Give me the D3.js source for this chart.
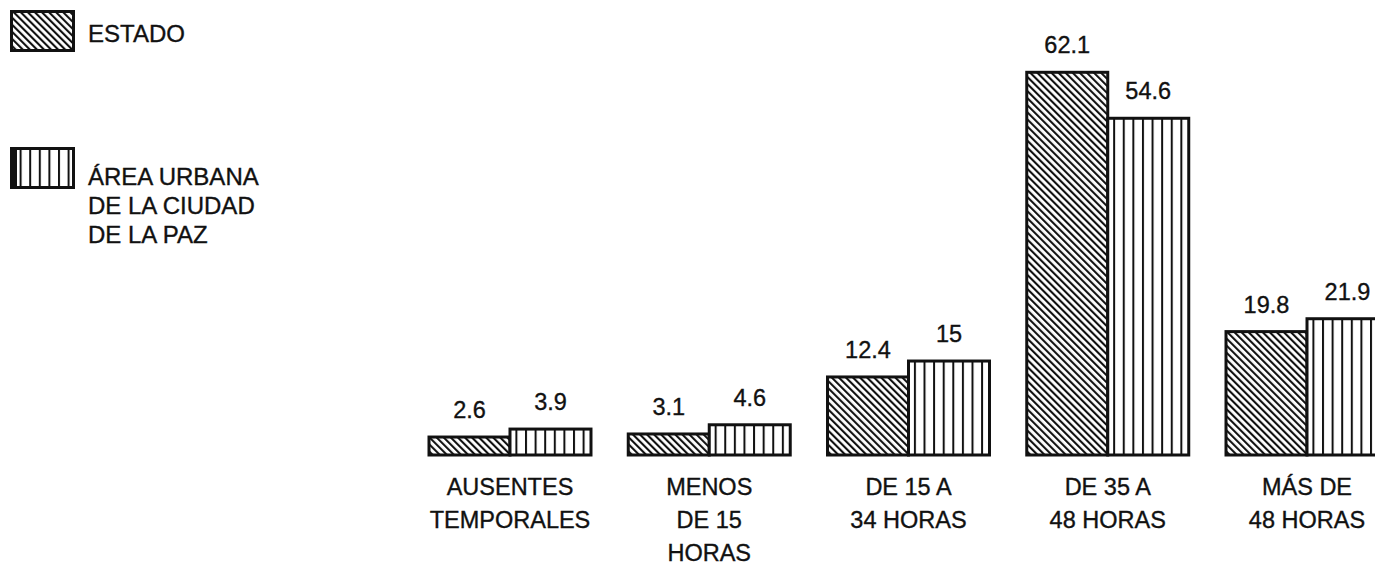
<!DOCTYPE html>
<html>
<head>
<meta charset="utf-8">
<script src="https://cdn.jsdelivr.net/npm/d3@7"></script>
<style>
  html, body { margin: 0; padding: 0; background: #fff; }
  svg { display: block; }
  text { font-family: "Liberation Sans", Arial, Helvetica, sans-serif; fill: #111; stroke: #111; stroke-width: 0.35px; }
</style>
</head>
<body>
<svg id="chart" width="1375" height="570"></svg>
<script>
// ---- data ----
const categories = ["AUSENTES TEMPORALES", "MENOS DE 15 HORAS", "DE 15 A 34 HORAS", "DE 35 A 48 HORAS", "MÁS DE 48 HORAS"];
const categoryLines = [["AUSENTES", "TEMPORALES"], ["MENOS", "DE 15", "HORAS"], ["DE 15 A", "34 HORAS"], ["DE 35 A", "48 HORAS"], ["MÁS DE", "48 HORAS"]];
const estadoValues = [2.6, 3.1, 12.4, 62.1, 19.8];
const lapazValues = [3.9, 4.6, 15, 54.6, 21.9];
const valueLabels = [["2.6", "3.1", "12.4", "62.1", "19.8"], ["3.9", "4.6", "15", "54.6", "21.9"]];
const seriesKeys = ["estado", "lapaz"];
const seriesLegend = [["ESTADO"], ["ÁREA URBANA", "DE LA CIUDAD", "DE LA PAZ"]];

// ---- drawing ----
const svg = d3.select("#chart");
const ink = "#111";

const defs = svg.append("defs");
const diag = defs.append("pattern")
  .attr("id", "diag").attr("patternUnits", "userSpaceOnUse")
  .attr("width", 5).attr("height", 5)
  .attr("patternTransform", "rotate(-45)");
diag.append("rect").attr("width", 5).attr("height", 5).attr("fill", "#fff");
diag.append("rect").attr("x", 0).attr("y", 0).attr("width", 2.1).attr("height", 5).attr("fill", ink);

const vert = defs.append("pattern")
  .attr("id", "vert").attr("patternUnits", "userSpaceOnUse")
  .attr("width", 9.6).attr("height", 10);
vert.append("rect").attr("width", 9.6).attr("height", 10).attr("fill", "#fff");
vert.append("rect").attr("x", 0).attr("y", 0).attr("width", 2).attr("height", 10).attr("fill", ink);

const fills = { estado: "url(#diag)", lapaz: "url(#vert)" };

const x0 = d3.scaleBand().domain(categories).range([429, 1388]).paddingInner(0.187).paddingOuter(0);
const x1 = d3.scaleBand().domain(seriesKeys).range([0, x0.bandwidth()]).padding(0);
const y = d3.scaleLinear().domain([-0.33, 62.1]).range([455, 72.3]);

const rows = categories.map((c, i) => ({ cat: c, i, vals: [estadoValues[i], lapazValues[i]] }));

const groups = svg.append("g").selectAll("g").data(rows).join("g")
  .attr("transform", d => `translate(${x0(d.cat)},0)`);

groups.selectAll("rect").data(d => d.vals.map((v, k) => ({ key: seriesKeys[k], v }))).join("rect")
  .attr("x", d => x1(d.key))
  .attr("y", d => y(d.v))
  .attr("width", x1.bandwidth())
  .attr("height", d => y(-0.33) - y(d.v))
  .attr("fill", d => fills[d.key])
  .attr("stroke", ink).attr("stroke-width", 3);

groups.selectAll("text.val").data(d => d.vals.map((v, k) => ({ key: seriesKeys[k], v, label: valueLabels[k][d.i] }))).join("text")
  .attr("class", "val")
  .attr("x", d => x1(d.key) + x1.bandwidth() / 2)
  .attr("y", d => y(d.v) - 19)
  .attr("text-anchor", "middle")
  .attr("font-size", 23.5)
  .text(d => d.label);

// category labels (axis-like)
groups.each(function (d) {
  const t = d3.select(this).append("text")
    .attr("text-anchor", "middle")
    .attr("font-size", 23.5);
  categoryLines[d.i].forEach((line, j) => {
    t.append("tspan").attr("x", x0.bandwidth() / 2).attr("y", 495 + j * 33).text(line);
  });
});

// legend
const legendY = [10, 147];
const legend = svg.append("g");
seriesKeys.forEach((k, i) => {
  const g = legend.append("g").attr("transform", `translate(10,${legendY[i]})`);
  g.append("rect").attr("x", 1.5).attr("y", 1.5).attr("width", 62).attr("height", 39)
    .attr("fill", fills[k]).attr("stroke", ink).attr("stroke-width", 3);
  if (k === "lapaz") {
    g.append("rect").attr("x", 0).attr("y", 0).attr("width", 7).attr("height", 42).attr("fill", ink);
  }
  const t = g.append("text").attr("font-size", 24);
  seriesLegend[i].forEach((line, j) => {
    t.append("tspan").attr("x", 78).attr("y", (i === 0 ? 32 : 38) + j * 29).text(line);
  });
});
</script>
</body>
</html>
